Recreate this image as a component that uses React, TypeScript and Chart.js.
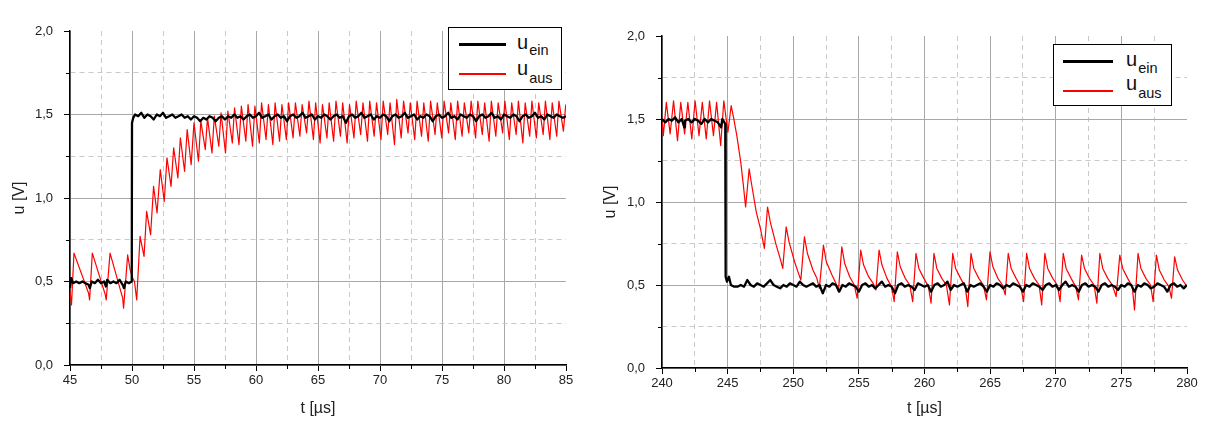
import React, { useEffect, useRef } from 'react';
import { Chart, registerables } from 'chart.js';

Chart.register(...registerables);

const FONT = "'Liberation Sans', Arial, Helvetica, sans-serif";

// ---------- tick labels ----------
const xMajorStep = 5;
const yMajorStep = 0.5;
const yLabelFormat = (v: number) => v.toFixed(1).replace('.', ',');

// ---------- LEFT panel data (t in µs, u in V) ----------
const leftT = [45, 85];
const einLeft: [number, number][] = [
  [45.0, 0.46], [45.1, 0.52], [45.25, 0.49], [45.5, 0.5], [45.75, 0.49], [46.0, 0.5], [46.25, 0.49], [46.5, 0.48],
  [46.6, 0.46], [46.75, 0.5], [47.0, 0.49], [47.25, 0.51], [47.5, 0.49], [47.75, 0.5], [47.9, 0.47], [48.0, 0.51],
  [48.25, 0.49], [48.5, 0.5], [48.75, 0.49], [49.0, 0.51], [49.25, 0.48], [49.35, 0.46], [49.5, 0.5], [49.75, 0.49],
  [49.98, 0.5], [50.0, 1.45], [50.1, 1.48],
  [50.25, 1.5], [50.5, 1.49], [50.75, 1.51], [51.0, 1.48], [51.25, 1.5], [51.5, 1.49], [51.75, 1.47], [52.0, 1.5],
  [52.25, 1.49], [52.5, 1.51], [52.75, 1.48], [53.0, 1.49], [53.25, 1.5], [53.5, 1.48], [53.75, 1.49], [54.0, 1.5],
  [54.25, 1.48], [54.5, 1.49], [54.75, 1.47], [55.0, 1.49], [55.25, 1.48], [55.5, 1.46], [55.75, 1.48], [56.0, 1.47],
  [56.25, 1.49], [56.5, 1.48], [56.75, 1.46], [57.0, 1.48], [57.25, 1.49], [57.5, 1.47], [57.75, 1.49], [58.0, 1.48],
  [58.25, 1.5], [58.5, 1.48], [58.75, 1.49], [59.0, 1.47], [59.25, 1.49], [59.5, 1.5], [59.75, 1.48], [60.0, 1.49],
  [60.25, 1.51], [60.5, 1.48], [60.75, 1.49], [61.0, 1.5], [61.25, 1.47], [61.5, 1.49], [61.75, 1.5], [62.0, 1.48],
  [62.25, 1.49], [62.5, 1.46], [62.75, 1.49], [63.0, 1.5], [63.25, 1.48], [63.5, 1.49], [63.75, 1.51], [64.0, 1.48],
  [64.25, 1.49], [64.5, 1.5], [64.75, 1.47], [65.0, 1.49], [65.25, 1.48], [65.5, 1.5], [65.75, 1.49], [66.0, 1.47],
  [66.25, 1.49], [66.5, 1.5], [66.75, 1.48], [67.0, 1.49], [67.25, 1.45], [67.5, 1.49], [67.75, 1.5], [68.0, 1.48],
  [68.25, 1.49], [68.5, 1.51], [68.75, 1.48], [69.0, 1.49], [69.25, 1.5], [69.5, 1.47], [69.75, 1.49], [70.0, 1.48],
  [70.25, 1.5], [70.5, 1.49], [70.75, 1.46], [71.0, 1.49], [71.25, 1.5], [71.5, 1.48], [71.75, 1.49], [72.0, 1.51],
  [72.25, 1.48], [72.5, 1.49], [72.75, 1.5], [73.0, 1.47], [73.25, 1.49], [73.5, 1.48], [73.75, 1.5], [74.0, 1.49],
  [74.25, 1.46], [74.5, 1.49], [74.75, 1.5], [75.0, 1.48], [75.25, 1.49], [75.5, 1.51], [75.75, 1.48], [76.0, 1.49],
  [76.25, 1.47], [76.5, 1.5], [76.75, 1.49], [77.0, 1.48], [77.25, 1.5], [77.5, 1.49], [77.75, 1.46], [78.0, 1.49],
  [78.25, 1.5], [78.5, 1.48], [78.75, 1.49], [79.0, 1.51], [79.25, 1.48], [79.5, 1.49], [79.75, 1.47], [80.0, 1.5],
  [80.25, 1.49], [80.5, 1.48], [80.75, 1.5], [81.0, 1.49], [81.25, 1.46], [81.5, 1.49], [81.75, 1.5], [82.0, 1.48],
  [82.25, 1.49], [82.5, 1.51], [82.75, 1.48], [83.0, 1.49], [83.25, 1.47], [83.5, 1.5], [83.75, 1.49], [84.0, 1.48],
  [84.25, 1.5], [84.5, 1.49], [84.75, 1.48], [85.0, 1.49],
];
const ausLeft: [number, number][] = [
  [45.0, 0.44], [45.12, 0.36], [45.32, 0.67], [46.5, 0.43], [46.58, 0.39], [46.8, 0.67], [47.85, 0.42], [47.92, 0.39],
  [48.23, 0.67], [49.25, 0.4], [49.32, 0.34], [49.65, 0.66], [49.85, 0.57], [50.05, 0.52], [50.2, 0.5], [50.38, 0.39],
  [50.65, 0.77], [50.97, 0.65], [51.18, 0.92], [51.5, 0.78], [51.74, 1.07], [52.02, 0.91], [52.28, 1.17], [52.6, 0.98],
  [52.82, 1.24], [53.15, 1.07], [53.36, 1.3], [53.7, 1.12], [53.9, 1.36], [54.24, 1.16], [54.45, 1.41], [54.77, 1.2],
  [55.0, 1.45], [55.36, 1.22], [55.55, 1.46], [55.91, 1.29], [56.09, 1.48], [56.45, 1.27], [56.64, 1.49], [57.0, 1.31],
  [57.18, 1.51], [57.54, 1.27], [57.73, 1.52], [58.09, 1.33], [58.27, 1.54], [58.63, 1.32], [58.82, 1.55], [59.18, 1.34],
  [59.36, 1.56], [59.72, 1.31], [59.91, 1.55], [60.27, 1.33], [60.45, 1.57], [60.81, 1.35], [61.0, 1.56], [61.36, 1.32],
  [61.54, 1.57], [61.9, 1.34], [62.09, 1.56], [62.45, 1.35], [62.63, 1.57], [62.99, 1.36], [63.18, 1.57], [63.54, 1.37],
  [63.72, 1.56], [64.08, 1.39], [64.27, 1.58], [64.63, 1.35], [64.81, 1.57], [65.17, 1.33], [65.36, 1.56], [65.72, 1.36],
  [65.9, 1.57], [66.26, 1.34], [66.45, 1.58], [66.81, 1.37], [66.99, 1.57], [67.35, 1.33], [67.54, 1.56], [67.9, 1.36],
  [68.08, 1.58], [68.44, 1.38], [68.63, 1.57], [68.99, 1.34], [69.17, 1.58], [69.53, 1.37], [69.72, 1.57], [70.08, 1.35],
  [70.26, 1.58], [70.62, 1.38], [70.81, 1.57], [71.17, 1.32], [71.35, 1.59], [71.71, 1.36], [71.9, 1.58], [72.26, 1.39],
  [72.44, 1.57], [72.8, 1.35], [72.99, 1.58], [73.35, 1.37], [73.53, 1.57], [73.89, 1.34], [74.08, 1.58], [74.44, 1.38],
  [74.62, 1.57], [74.98, 1.36], [75.17, 1.58], [75.53, 1.39], [75.71, 1.57], [76.07, 1.35], [76.26, 1.58], [76.62, 1.37],
  [76.8, 1.57], [77.16, 1.39], [77.35, 1.58], [77.71, 1.36], [77.89, 1.58], [78.25, 1.38], [78.44, 1.57], [78.8, 1.34],
  [78.98, 1.58], [79.34, 1.37], [79.53, 1.57], [79.89, 1.39], [80.07, 1.58], [80.43, 1.35], [80.62, 1.57], [80.98, 1.38],
  [81.16, 1.58], [81.52, 1.33], [81.71, 1.57], [82.07, 1.37], [82.25, 1.58], [82.61, 1.36], [82.8, 1.57], [83.16, 1.38],
  [83.34, 1.58], [83.7, 1.35], [83.89, 1.57], [84.25, 1.37], [84.43, 1.58], [84.79, 1.4], [84.98, 1.56],
];

// ---------- RIGHT panel data ----------
const rightT = [240, 280];
const einRight: [number, number][] = [
  [240.0, 1.5], [240.25, 1.48], [240.5, 1.5], [240.75, 1.49], [241.0, 1.51], [241.25, 1.48], [241.5, 1.5], [241.7, 1.45],
  [241.75, 1.49], [242.0, 1.5], [242.25, 1.48], [242.5, 1.5], [242.75, 1.49], [243.0, 1.47], [243.25, 1.5], [243.5, 1.48],
  [243.75, 1.5], [244.0, 1.49], [244.25, 1.48], [244.5, 1.45], [244.6, 1.5], [244.75, 1.48], [244.82, 1.47],
  [244.85, 0.55], [244.95, 0.52], [245.1, 0.55],
  [245.25, 0.5], [245.5, 0.49], [245.75, 0.49], [246.0, 0.5], [246.25, 0.49], [246.5, 0.53], [246.75, 0.5], [247.0, 0.49],
  [247.25, 0.51], [247.5, 0.5], [247.75, 0.49], [248.0, 0.51], [248.25, 0.53], [248.5, 0.5], [248.75, 0.49], [249.0, 0.48],
  [249.25, 0.5], [249.5, 0.49], [249.75, 0.51], [250.0, 0.5], [250.25, 0.49], [250.5, 0.52], [250.75, 0.5], [251.0, 0.49],
  [251.25, 0.5], [251.5, 0.51], [251.75, 0.49], [252.0, 0.5], [252.25, 0.45], [252.5, 0.5], [252.75, 0.49], [253.0, 0.51],
  [253.25, 0.5], [253.5, 0.46], [253.75, 0.5], [254.0, 0.49], [254.25, 0.51], [254.5, 0.5], [254.75, 0.49], [255.0, 0.46],
  [255.25, 0.5], [255.5, 0.51], [255.75, 0.49], [256.0, 0.5], [256.25, 0.48], [256.5, 0.5], [256.75, 0.52], [257.0, 0.49],
  [257.25, 0.5], [257.5, 0.49], [257.75, 0.45], [258.0, 0.5], [258.25, 0.51], [258.5, 0.49], [258.75, 0.5], [259.0, 0.49],
  [259.25, 0.47], [259.5, 0.51], [259.75, 0.5], [260.0, 0.49], [260.25, 0.5], [260.5, 0.46], [260.75, 0.5], [261.0, 0.51],
  [261.25, 0.49], [261.5, 0.5], [261.75, 0.52], [262.0, 0.47], [262.25, 0.5], [262.5, 0.49], [262.75, 0.5], [263.0, 0.51],
  [263.25, 0.46], [263.5, 0.5], [263.75, 0.49], [264.0, 0.5], [264.25, 0.51], [264.5, 0.49], [264.75, 0.46], [265.0, 0.5],
  [265.25, 0.49], [265.5, 0.51], [265.75, 0.5], [266.0, 0.48], [266.25, 0.5], [266.5, 0.49], [266.75, 0.51], [267.0, 0.5],
  [267.25, 0.49], [267.5, 0.46], [267.75, 0.5], [268.0, 0.49], [268.25, 0.51], [268.5, 0.5], [268.75, 0.49], [269.0, 0.47],
  [269.25, 0.5], [269.5, 0.51], [269.75, 0.49], [270.0, 0.5], [270.25, 0.47], [270.5, 0.5], [270.75, 0.52], [271.0, 0.49],
  [271.25, 0.5], [271.5, 0.49], [271.75, 0.46], [272.0, 0.5], [272.25, 0.51], [272.5, 0.49], [272.75, 0.5], [273.0, 0.49],
  [273.25, 0.46], [273.5, 0.5], [273.75, 0.51], [274.0, 0.49], [274.25, 0.5], [274.5, 0.49], [274.75, 0.47], [275.0, 0.5],
  [275.25, 0.49], [275.5, 0.51], [275.75, 0.5], [276.0, 0.46], [276.25, 0.5], [276.5, 0.49], [276.75, 0.51], [277.0, 0.5],
  [277.25, 0.48], [277.5, 0.49], [277.75, 0.51], [278.0, 0.5], [278.25, 0.49], [278.5, 0.46], [278.75, 0.5], [279.0, 0.51],
  [279.25, 0.49], [279.5, 0.5], [279.75, 0.48], [280.0, 0.5],
];
const ausRight: [number, number][] = [
  [240.0, 1.5], [240.1, 1.4], [240.33, 1.6], [240.62, 1.41], [240.88, 1.61], [241.18, 1.37], [241.43, 1.6], [241.72, 1.41],
  [241.97, 1.6], [242.27, 1.38], [242.52, 1.61], [242.82, 1.4], [243.07, 1.6], [243.37, 1.38], [243.62, 1.61], [243.92, 1.4],
  [244.16, 1.6], [244.47, 1.34], [244.71, 1.61], [245.02, 1.42], [245.27, 1.58], [245.45, 1.51], [245.7, 1.4], [246.0, 1.24],
  [246.2, 1.1], [246.37, 0.97], [246.64, 1.2], [246.82, 1.11], [247.18, 0.94], [247.5, 0.84], [247.8, 0.72], [248.04, 0.97],
  [248.25, 0.88], [248.7, 0.74], [249.0, 0.66], [249.2, 0.6], [249.46, 0.85], [249.68, 0.76], [250.1, 0.64], [250.4, 0.57],
  [250.58, 0.53], [250.85, 0.79], [251.08, 0.69], [251.5, 0.59], [251.8, 0.54], [251.99, 0.48], [252.3, 0.74], [252.52, 0.64],
  [252.95, 0.56], [253.25, 0.51], [253.44, 0.46],
  [253.7, 0.73], [253.92, 0.63], [254.3, 0.55], [254.65, 0.5], [254.87, 0.42],
  [255.14, 0.71], [255.36, 0.62], [255.74, 0.55], [256.09, 0.51], [256.3, 0.47],
  [256.54, 0.71], [256.76, 0.62], [257.14, 0.54], [257.49, 0.49], [257.69, 0.4],
  [257.93, 0.7], [258.15, 0.61], [258.53, 0.54], [258.88, 0.5], [259.1, 0.4],
  [259.35, 0.69], [259.57, 0.6], [259.95, 0.54], [260.3, 0.49], [260.5, 0.39],
  [260.72, 0.69], [260.94, 0.6], [261.32, 0.54], [261.67, 0.5], [261.9, 0.38],
  [262.15, 0.69], [262.37, 0.6], [262.75, 0.54], [263.1, 0.49], [263.3, 0.37],
  [263.54, 0.69], [263.76, 0.6], [264.14, 0.54], [264.49, 0.5], [264.72, 0.41],
  [264.99, 0.7], [265.21, 0.61], [265.59, 0.54], [265.94, 0.5], [266.15, 0.44],
  [266.38, 0.69], [266.6, 0.6], [266.98, 0.54], [267.33, 0.49], [267.55, 0.4],
  [267.78, 0.69], [268.0, 0.6], [268.38, 0.54], [268.73, 0.5], [268.93, 0.38],
  [269.17, 0.69], [269.39, 0.6], [269.77, 0.54], [270.12, 0.5], [270.33, 0.4],
  [270.57, 0.69], [270.79, 0.6], [271.17, 0.54], [271.52, 0.49], [271.73, 0.41],
  [271.97, 0.68], [272.19, 0.6], [272.57, 0.54], [272.92, 0.5], [273.13, 0.39],
  [273.36, 0.69], [273.58, 0.6], [273.96, 0.54], [274.31, 0.5], [274.6, 0.43],
  [274.88, 0.68], [275.1, 0.6], [275.48, 0.54], [275.83, 0.49], [276.0, 0.35],
  [276.27, 0.69], [276.49, 0.6], [276.87, 0.54], [277.22, 0.5], [277.42, 0.4],
  [277.67, 0.68], [277.89, 0.59], [278.27, 0.53], [278.62, 0.49], [278.82, 0.42],
  [279.06, 0.67], [279.28, 0.59], [279.66, 0.53], [280.0, 0.49],
];

const uRange = [0, 2];

// ---------- helpers ----------
const isMult = (v: number, m: number) => Math.abs(v / m - Math.round(v / m)) < 1e-6;

const minorTicksPlugin = {
  id: 'minorTicks',
  afterDraw(chart: any) {
    const { ctx } = chart;
    const xs = chart.scales.x;
    const ys = chart.scales.y;
    ctx.save();
    ctx.strokeStyle = '#000';
    ctx.lineWidth = 1;
    xs.ticks.forEach((t: any) => {
      if (!isMult(t.value, xMajorStep)) {
        const px = Math.round(xs.getPixelForValue(t.value)) + 0.5;
        ctx.beginPath();
        ctx.moveTo(px, xs.top);
        ctx.lineTo(px, xs.top + 4);
        ctx.stroke();
      }
    });
    ys.ticks.forEach((t: any) => {
      if (!isMult(t.value, yMajorStep)) {
        const py = Math.round(ys.getPixelForValue(t.value)) + 0.5;
        ctx.beginPath();
        ctx.moveTo(ys.right, py);
        ctx.lineTo(ys.right - 4, py);
        ctx.stroke();
      }
    });
    ctx.restore();
  },
};

type Spec = {
  left: number;
  width: number;
  padTop: number;
  padRight: number;
  yAxisW: number;
  xAxisH: number;
  yTitlePad: number;
  range: number[];
  ein: [number, number][];
  aus: [number, number][];
};

function gridColor(c: any, max: number, step: number) {
  const v = c.tick ? c.tick.value : undefined;
  if (v === undefined) return 'transparent';
  if (Math.abs(v - max) < 1e-6) return 'transparent';
  return isMult(v, step) ? '#a8a8a8' : '#c9c9c9';
}

function buildConfig(s: Spec) {
  const tickFont = { family: FONT, size: 13 };
  const titleFont = { family: FONT, size: 16 };
  return {
    type: 'scatter',
    data: {
      datasets: [
        {
          label: 'u_ein',
          data: s.ein.map(([x, y]) => ({ x, y })),
          borderColor: '#000000',
          backgroundColor: '#000000',
          borderWidth: 2.3,
          showLine: true,
          pointRadius: 0,
          pointHoverRadius: 0,
          borderJoinStyle: 'round',
        },
        {
          label: 'u_aus',
          data: s.aus.map(([x, y]) => ({ x, y })),
          borderColor: '#ff0000',
          backgroundColor: '#ff0000',
          borderWidth: 1.2,
          showLine: true,
          pointRadius: 0,
          pointHoverRadius: 0,
          borderJoinStyle: 'round',
        },
      ],
    },
    options: {
      responsive: false,
      animation: false,
      events: [],
      layout: { padding: { left: 0, top: s.padTop, right: s.padRight, bottom: 0 } },
      plugins: { legend: { display: false }, tooltip: { enabled: false } },
      scales: {
        x: {
          type: 'linear',
          min: s.range[0],
          max: s.range[1],
          afterFit: (sc: any) => {
            sc.height = s.xAxisH;
          },
          ticks: {
            stepSize: 2.5,
            autoSkip: false,
            maxRotation: 0,
            padding: 2,
            color: '#222',
            font: tickFont,
            callback: (v: number) => (isMult(v, xMajorStep) ? String(v) : ''),
          },
          grid: {
            color: (c: any) => gridColor(c, s.range[1], xMajorStep),
            lineWidth: 1,
            tickLength: 6,
            tickWidth: 1,
            tickColor: (c: any) => (c.tick && isMult(c.tick.value, xMajorStep) ? '#000' : 'transparent'),
          },
          border: {
            color: '#000',
            width: 1.5,
            dash: (c: any) => (c.tick && !isMult(c.tick.value, xMajorStep) ? [5, 4] : []),
          },
          title: {
            display: true,
            text: 't [µs]',
            color: '#222',
            font: titleFont,
            padding: { top: 0, bottom: 4.4 },
          },
        },
        y: {
          type: 'linear',
          min: uRange[0],
          max: uRange[1],
          afterFit: (sc: any) => {
            sc.width = s.yAxisW;
          },
          ticks: {
            stepSize: 0.25,
            autoSkip: false,
            padding: 11,
            color: '#222',
            font: tickFont,
            callback: (v: number) => (isMult(v, yMajorStep) ? yLabelFormat(v) : ''),
          },
          grid: {
            color: (c: any) => gridColor(c, uRange[1], yMajorStep),
            lineWidth: 1,
            tickLength: 6,
            tickWidth: 1,
            tickColor: (c: any) => (c.tick && isMult(c.tick.value, yMajorStep) ? '#000' : 'transparent'),
          },
          border: {
            color: '#000',
            width: 1.5,
            dash: (c: any) => (c.tick && !isMult(c.tick.value, yMajorStep) ? [5, 4] : []),
          },
          title: {
            display: true,
            text: 'u [V]',
            color: '#222',
            font: titleFont,
            padding: { top: s.yTitlePad, bottom: 0 },
          },
        },
      },
    },
    plugins: [minorTicksPlugin],
  };
}

function ChartPanel({ spec }: { spec: Spec }) {
  const ref = useRef<HTMLCanvasElement>(null);
  useEffect(() => {
    if (!ref.current) return;
    const chart = new Chart(ref.current, buildConfig(spec) as any);
    return () => chart.destroy();
  }, []);
  return (
    <canvas
      ref={ref}
      width={spec.width}
      height={423}
      style={{ position: 'absolute', left: spec.left, top: 0, width: spec.width, height: 423 }}
    />
  );
}

type LegendSpec = {
  left: number;
  top: number;
  w: number;
  h: number;
  lineX: number;
  lineW: number;
  blackY: number;
  redY: number;
  textX: number;
  u1Base: number;
  sub1: number;
  u2Base: number;
  sub2: number;
};

function Legend({ l }: { l: LegendSpec }) {
  const fs = 20;
  const subFs = 14.5;
  const baseOff = 0.8465 * fs;
  const textStyle = (base: number): React.CSSProperties => ({
    position: 'absolute',
    left: l.textX,
    top: base - baseOff,
    fontFamily: FONT,
    fontSize: fs,
    lineHeight: fs + 'px',
    color: '#111',
    whiteSpace: 'nowrap',
  });
  return (
    <>
      <div
        style={{
          position: 'absolute',
          left: l.left,
          top: l.top,
          width: l.w,
          height: l.h,
          border: '1px solid #000',
          background: '#fff',
          boxSizing: 'border-box',
        }}
      />
      <div style={{ position: 'absolute', left: l.lineX, top: l.blackY - 1.5, width: l.lineW, height: 3, background: '#000' }} />
      <div style={{ position: 'absolute', left: l.lineX, top: l.redY - 1, width: l.lineW, height: 2, background: '#ff0000' }} />
      <div style={textStyle(l.u1Base)}>
        u<span style={{ fontSize: subFs, verticalAlign: -l.sub1 + 'px', marginLeft: 1 }}>ein</span>
      </div>
      <div style={textStyle(l.u2Base)}>
        u<span style={{ fontSize: subFs, verticalAlign: -l.sub2 + 'px', marginLeft: 1 }}>aus</span>
      </div>
    </>
  );
}

const leftSpec: Spec = {
  left: 0, width: 600, padTop: 31, padRight: 34, yAxisW: 70, xAxisH: 58, yTitlePad: 10.4,
  range: leftT, ein: einLeft, aus: ausLeft,
};
const rightSpec: Spec = {
  left: 600, width: 605, padTop: 36, padRight: 18, yAxisW: 62, xAxisH: 55, yTitlePad: 1.4,
  range: rightT, ein: einRight, aus: ausRight,
};

const leftLegend: LegendSpec = {
  left: 448, top: 27, w: 114, h: 63, lineX: 459, lineW: 47, blackY: 44.3, redY: 74,
  textX: 517, u1Base: 49.3, sub1: 5.7, u2Base: 75, sub2: 7.7,
};
const rightLegend: LegendSpec = {
  left: 1053, top: 44, w: 119, h: 62, lineX: 1063, lineW: 50, blackY: 61.7, redY: 90.7,
  textX: 1126, u1Base: 66, sub1: 6.7, u2Base: 90, sub2: 7.5,
};

export default function App() {
  return (
    <div style={{ position: 'absolute', left: 0, top: 0, width: 1205, height: 423, background: '#fff', overflow: 'hidden' }}>
      <ChartPanel spec={leftSpec} />
      <ChartPanel spec={rightSpec} />
      <Legend l={leftLegend} />
      <Legend l={rightLegend} />
    </div>
  );
}
